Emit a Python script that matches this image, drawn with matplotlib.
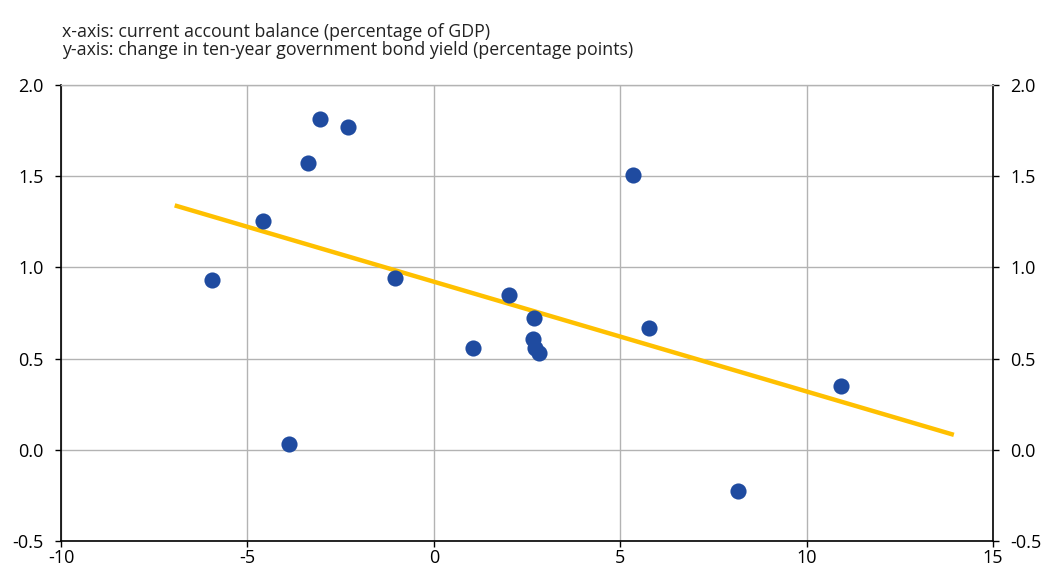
import matplotlib
matplotlib.use("Agg")
import matplotlib.pyplot as plt
import numpy as np

plt.rcParams['font.family'] = ['Open Sans', 'DejaVu Sans']

# Data: current account balance (% of GDP) vs change in 10y yield (pp)
ca_balance = [-5.95, -4.59, -3.89, -3.38, -3.06, -2.31, -1.05, 1.05, 2.01,
              2.68, 2.66, 2.71, 2.82, 5.34, 5.77, 8.15, 10.92]
yield_change = [0.93, 1.255, 0.03, 1.575, 1.815, 1.77, 0.94, 0.56, 0.85,
                0.72, 0.61, 0.56, 0.53, 1.505, 0.67, -0.225, 0.35]
trend_x = [-6.95, 13.95]
trend_y = [1.34, 0.082]

x_ticks = [-10, -5, 0, 5, 10, 15]
y_ticks = [-0.5, 0.0, 0.5, 1.0, 1.5, 2.0]

fig = plt.figure(figsize=(10.41, 5.68), dpi=100)
ax = fig.add_axes([61/1041, 27/568, 932/1041, 456/568])

ax.set_xlim(-10, 15)
ax.set_ylim(-0.5, 2.0)
ax.set_xticks(x_ticks)
ax.set_yticks(y_ticks)
ax.set_xticklabels([str(t) for t in x_ticks])
ax.set_yticklabels([f"{t:.1f}" for t in y_ticks])

ax.grid(True, color='#b3b3b3', linewidth=1.0)
ax.set_axisbelow(True)

for s in ['left', 'right', 'bottom']:
    ax.spines[s].set_color('black')
    ax.spines[s].set_linewidth(1.2)
ax.spines['top'].set_color('#b3b3b3')
ax.spines['top'].set_linewidth(1.0)

ax.tick_params(axis='both', direction='out', length=4.5, width=1.0,
               labelsize=13, colors='black')
ax.tick_params(axis='y', right=True, labelright=True, pad=8)
ax.tick_params(axis='x', pad=1)

ax.plot(trend_x, trend_y, color='#FFC000', linewidth=3.2, zorder=2,
        solid_capstyle='butt')
ax.scatter(ca_balance, yield_change, s=135, color='#1f4ba0', zorder=3,
           linewidths=0)

fig.text(62/1041, 1 - 32/568, "x-axis: current account balance (percentage of GDP)",
         fontsize=12.8, va='center', ha='left', color='#222222')
fig.text(62/1041, 1 - 50/568, "y-axis: change in ten-year government bond yield (percentage points)",
         fontsize=12.8, va='center', ha='left', color='#222222')

fig.savefig("out.png", dpi=100)
